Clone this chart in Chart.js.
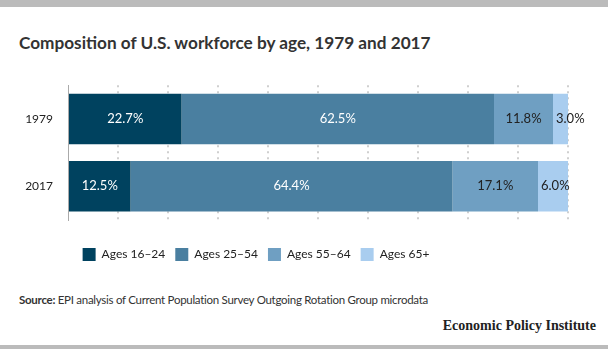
<!DOCTYPE html>
<html>
<head>
<meta charset="utf-8">
<title>Composition of U.S. workforce by age</title>
<script src="https://cdn.jsdelivr.net/npm/chart.js@4.4.1/dist/chart.umd.min.js"></script>
<style>
  html, body { margin: 0; padding: 0; background: #fff; }
  body { width: 608px; height: 349px; position: relative; overflow: hidden; font-family: Lato, "Open Sans", sans-serif; color: #333; }
  .bar-top { position: absolute; left: 0; top: 0; width: 608px; height: 7px; background: #bbb; }
  .bar-bottom { position: absolute; left: 0; top: 345px; width: 608px; height: 4px; background: #bbb; }
  h1 { position: absolute; left: 19px; top: 32px; margin: 0; font-size: 17.2px; font-weight: 700; color: #333; }
  .source { position: absolute; left: 19px; top: 293px; font-size: 11.5px; letter-spacing: -0.28px; color: #333; }
  .source b { font-weight: 700; }
  .brand { position: absolute; right: 12px; top: 318px; font-family: "Liberation Serif", serif; font-weight: 700; font-size: 14px; color: #222; }
  #wrap { position: absolute; left: 0; top: 63px; width: 608px; height: 208px; }
</style>
</head>
<body>
<div class="bar-top"></div>
<h1>Composition of U.S. workforce by age, 1979 and 2017</h1>
<div id="wrap"><canvas id="myChart"></canvas></div>
<div class="source"><b>Source:</b> EPI analysis of Current Population Survey Outgoing Rotation Group microdata</div>
<div class="brand">Economic Policy Institute</div>
<div class="bar-bottom"></div>

<script>
  // years on the y axis, share of workforce (%) per age group
  const years = ["1979", "2017"];
  const ages16to24 = [22.7, 12.5];
  const ages25to54 = [62.5, 64.4];
  const ages55to64 = [11.8, 17.1];
  const ages65plus = [3.0, 6.0];

  const seriesNames = ["Ages 16\u201324", "Ages 25\u201354", "Ages 55\u201364", "Ages 65+"];
  const seriesColors = ["#00425f", "#4a7fa0", "#6f9fc2", "#a9cdef"];
  const labelColors = ["#fff", "#fff", "#222", "#222"];

  // value labels in the middle of each segment; too-narrow segments get
  // their label pinned just inside the left edge instead
  const segmentLabels = {
    id: "segmentLabels",
    afterDatasetsDraw(chart) {
      const ctx = chart.ctx;
      ctx.save();
      ctx.font = "13px Lato, sans-serif";
      ctx.textBaseline = "middle";
      chart.data.datasets.forEach(function(ds, i) {
        chart.getDatasetMeta(i).data.forEach(function(bar, j) {
          const text = ds.data[j].toFixed(1) + "%";
          const w = ctx.measureText(text).width;
          const left = Math.min(bar.x, bar.base);
          const width = Math.abs(bar.x - bar.base);
          ctx.fillStyle = labelColors[i];
          if (w + 4 > width) {
            ctx.textAlign = "left";
            ctx.fillText(text, left + 3, bar.y);
          } else {
            ctx.textAlign = "center";
            ctx.fillText(text, left + width / 2, bar.y);
          }
        });
      });
      ctx.restore();
    }
  };

  // legend sits left of centre, under the bars
  const legendShift = {
    id: "legendShift",
    afterLayout(chart) {
      if (chart.legend) {
        chart.legend.left -= 28;
        chart.legend.right -= 28;
      }
    }
  };

  new Chart("myChart", {
    type: "bar",
    data: {
      labels: years,
      datasets: [
        { label: seriesNames[0], data: ages16to24, backgroundColor: seriesColors[0] },
        { label: seriesNames[1], data: ages25to54, backgroundColor: seriesColors[1] },
        { label: seriesNames[2], data: ages55to64, backgroundColor: seriesColors[2] },
        { label: seriesNames[3], data: ages65plus, backgroundColor: seriesColors[3] }
      ]
    },
    options: {
      indexAxis: "y",
      responsive: true,
      maintainAspectRatio: false,
      animation: false,
      layout: { padding: { top: 8, right: 40, left: 0, bottom: 0 } },
      datasets: { bar: { categoryPercentage: 1, barPercentage: 0.75 } },
      scales: {
        x: {
          stacked: true,
          min: 0,
          max: 100,
          afterFit: function(s) { s.height += 18; },
          ticks: { display: false, stepSize: 10 },
          grid: {
            drawTicks: false,
            color: function(c) { return c.tick && c.tick.value === 0 ? "rgba(0,0,0,0)" : "#cfcfcf"; },
            lineWidth: 2
          },
          border: { display: false, dash: [2, 4] }
        },
        y: {
          stacked: true,
          afterFit: function(s) { s.width = 68; },
          grid: { display: false, drawTicks: false },
          border: { display: true, color: "#aaa", width: 1 },
          ticks: { color: "#222", padding: 15, font: { family: "Lato, sans-serif", size: 12 } }
        }
      },
      plugins: {
        legend: {
          position: "bottom",
          labels: {
            boxWidth: 13,
            boxHeight: 13,
            padding: 10,
            color: "#222",
            font: { family: "Lato, sans-serif", size: 12 }
          }
        },
        tooltip: { enabled: false }
      }
    },
    plugins: [segmentLabels, legendShift]
  });
</script>
</body>
</html>
